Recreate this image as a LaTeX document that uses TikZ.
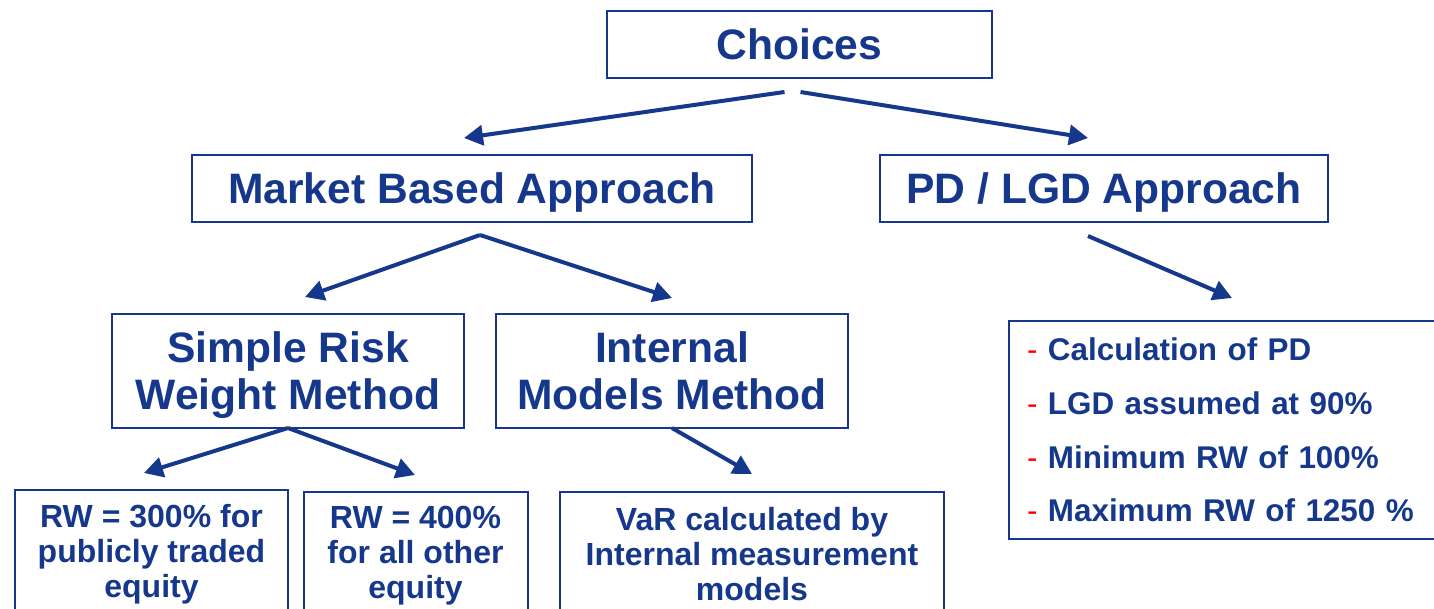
\documentclass[tikz,border=0pt]{standalone}
\usepackage{fontspec}
\setmainfont{Liberation Sans}
\usetikzlibrary{arrows.meta}
\definecolor{navy}{RGB}{22,56,140}
\newcommand{\reddash}{{\mdseries\textcolor{red}{-}}}
\begin{document}
\begin{tikzpicture}[x=0.5pt,y=-0.5pt,
  box/.style={draw=navy, line width=1pt, text=navy, font=\bfseries\fontsize{21.3}{23.5}\selectfont, align=center, inner sep=0pt},
  small/.style={draw=navy, line width=1pt, text=navy, font=\bfseries\fontsize{16}{17.5}\selectfont, align=center, inner sep=0pt, anchor=north},
  arr/.style={draw=navy, line width=2pt, -{Triangle[length=9.5pt,width=10pt]}}]
\useasboundingbox (0,0) rectangle (1434,609);
\clip (0,0) rectangle (1434,609);

\node[box, minimum width=192.5pt, minimum height=33.5pt] (choices) at (799.5,44.5) {Choices};
\node[box, minimum width=280pt, minimum height=33.5pt, text depth=0pt] (mba) at (472,188.5) {Market Based Approach};
\node[box, minimum width=224pt, minimum height=33.5pt, text depth=0pt] (pd) at (1104,188.5) {PD / LGD Approach};
\node[box, minimum width=176pt, minimum height=57pt] (srw) at (288,371) {Simple Risk\\Wei\smash{g}ht Method};
\node[box, minimum width=176pt, minimum height=57pt] (imm) at (672,371) {Internal\\Models Method};
\node[small, minimum width=136.5pt, minimum height=64pt] (rw3) at (151.5,489) {RW = 300\% for\\publicly traded\\equity};
\node[small, minimum width=112pt, minimum height=64pt] (rw4) at (415.5,491) {RW = 400\%\\for all other\\equity};
\node[small, minimum width=192pt, minimum height=62pt] (var) at (752,491) {VaR calculated by\\Internal measurement\\models};
\node[draw=navy, line width=1pt, text=navy, font=\bfseries\fontsize{15.7}{26.85}\selectfont, anchor=north west, align=left, text width=200pt, inner xsep=9pt, inner ysep=0pt, minimum height=109pt] (list) at (1008,320)
  {\reddash{} Calculation of PD\\\reddash{} LGD assumed at 90\%\\\reddash{} Minimum RW of 100\%\\\reddash{} Maximum RW of 1250 \%};

\coordinate (tmba) at (464,138);
\coordinate (tpd) at (1088,138);
\coordinate (tsrw) at (305,297);
\coordinate (timm) at (672,298);
\coordinate (tlist) at (1232,298);
\coordinate (trw3) at (144,473);
\coordinate (trw4) at (415,475);
\coordinate (tvar) at (752,474);

\draw[arr] ([shift={(-15,13)}]choices.south) -- (tmba);
\draw[arr] ([shift={(1,13)}]choices.south) -- (tpd);
\draw[arr] ([shift={(8,12)}]mba.south) -- (tsrw);
\draw[arr] ([shift={(8,12)}]mba.south) -- (timm);
\draw[arr] ([shift={(-16,13)}]pd.south) -- (tlist);
\draw[arr] ([shift={(0,-1)}]srw.south) -- (trw3);
\draw[arr] ([shift={(0,-1)}]srw.south) -- (trw4);
\draw[arr] ([shift={(0,-1)}]imm.south) -- (tvar);
\end{tikzpicture}
\end{document}
